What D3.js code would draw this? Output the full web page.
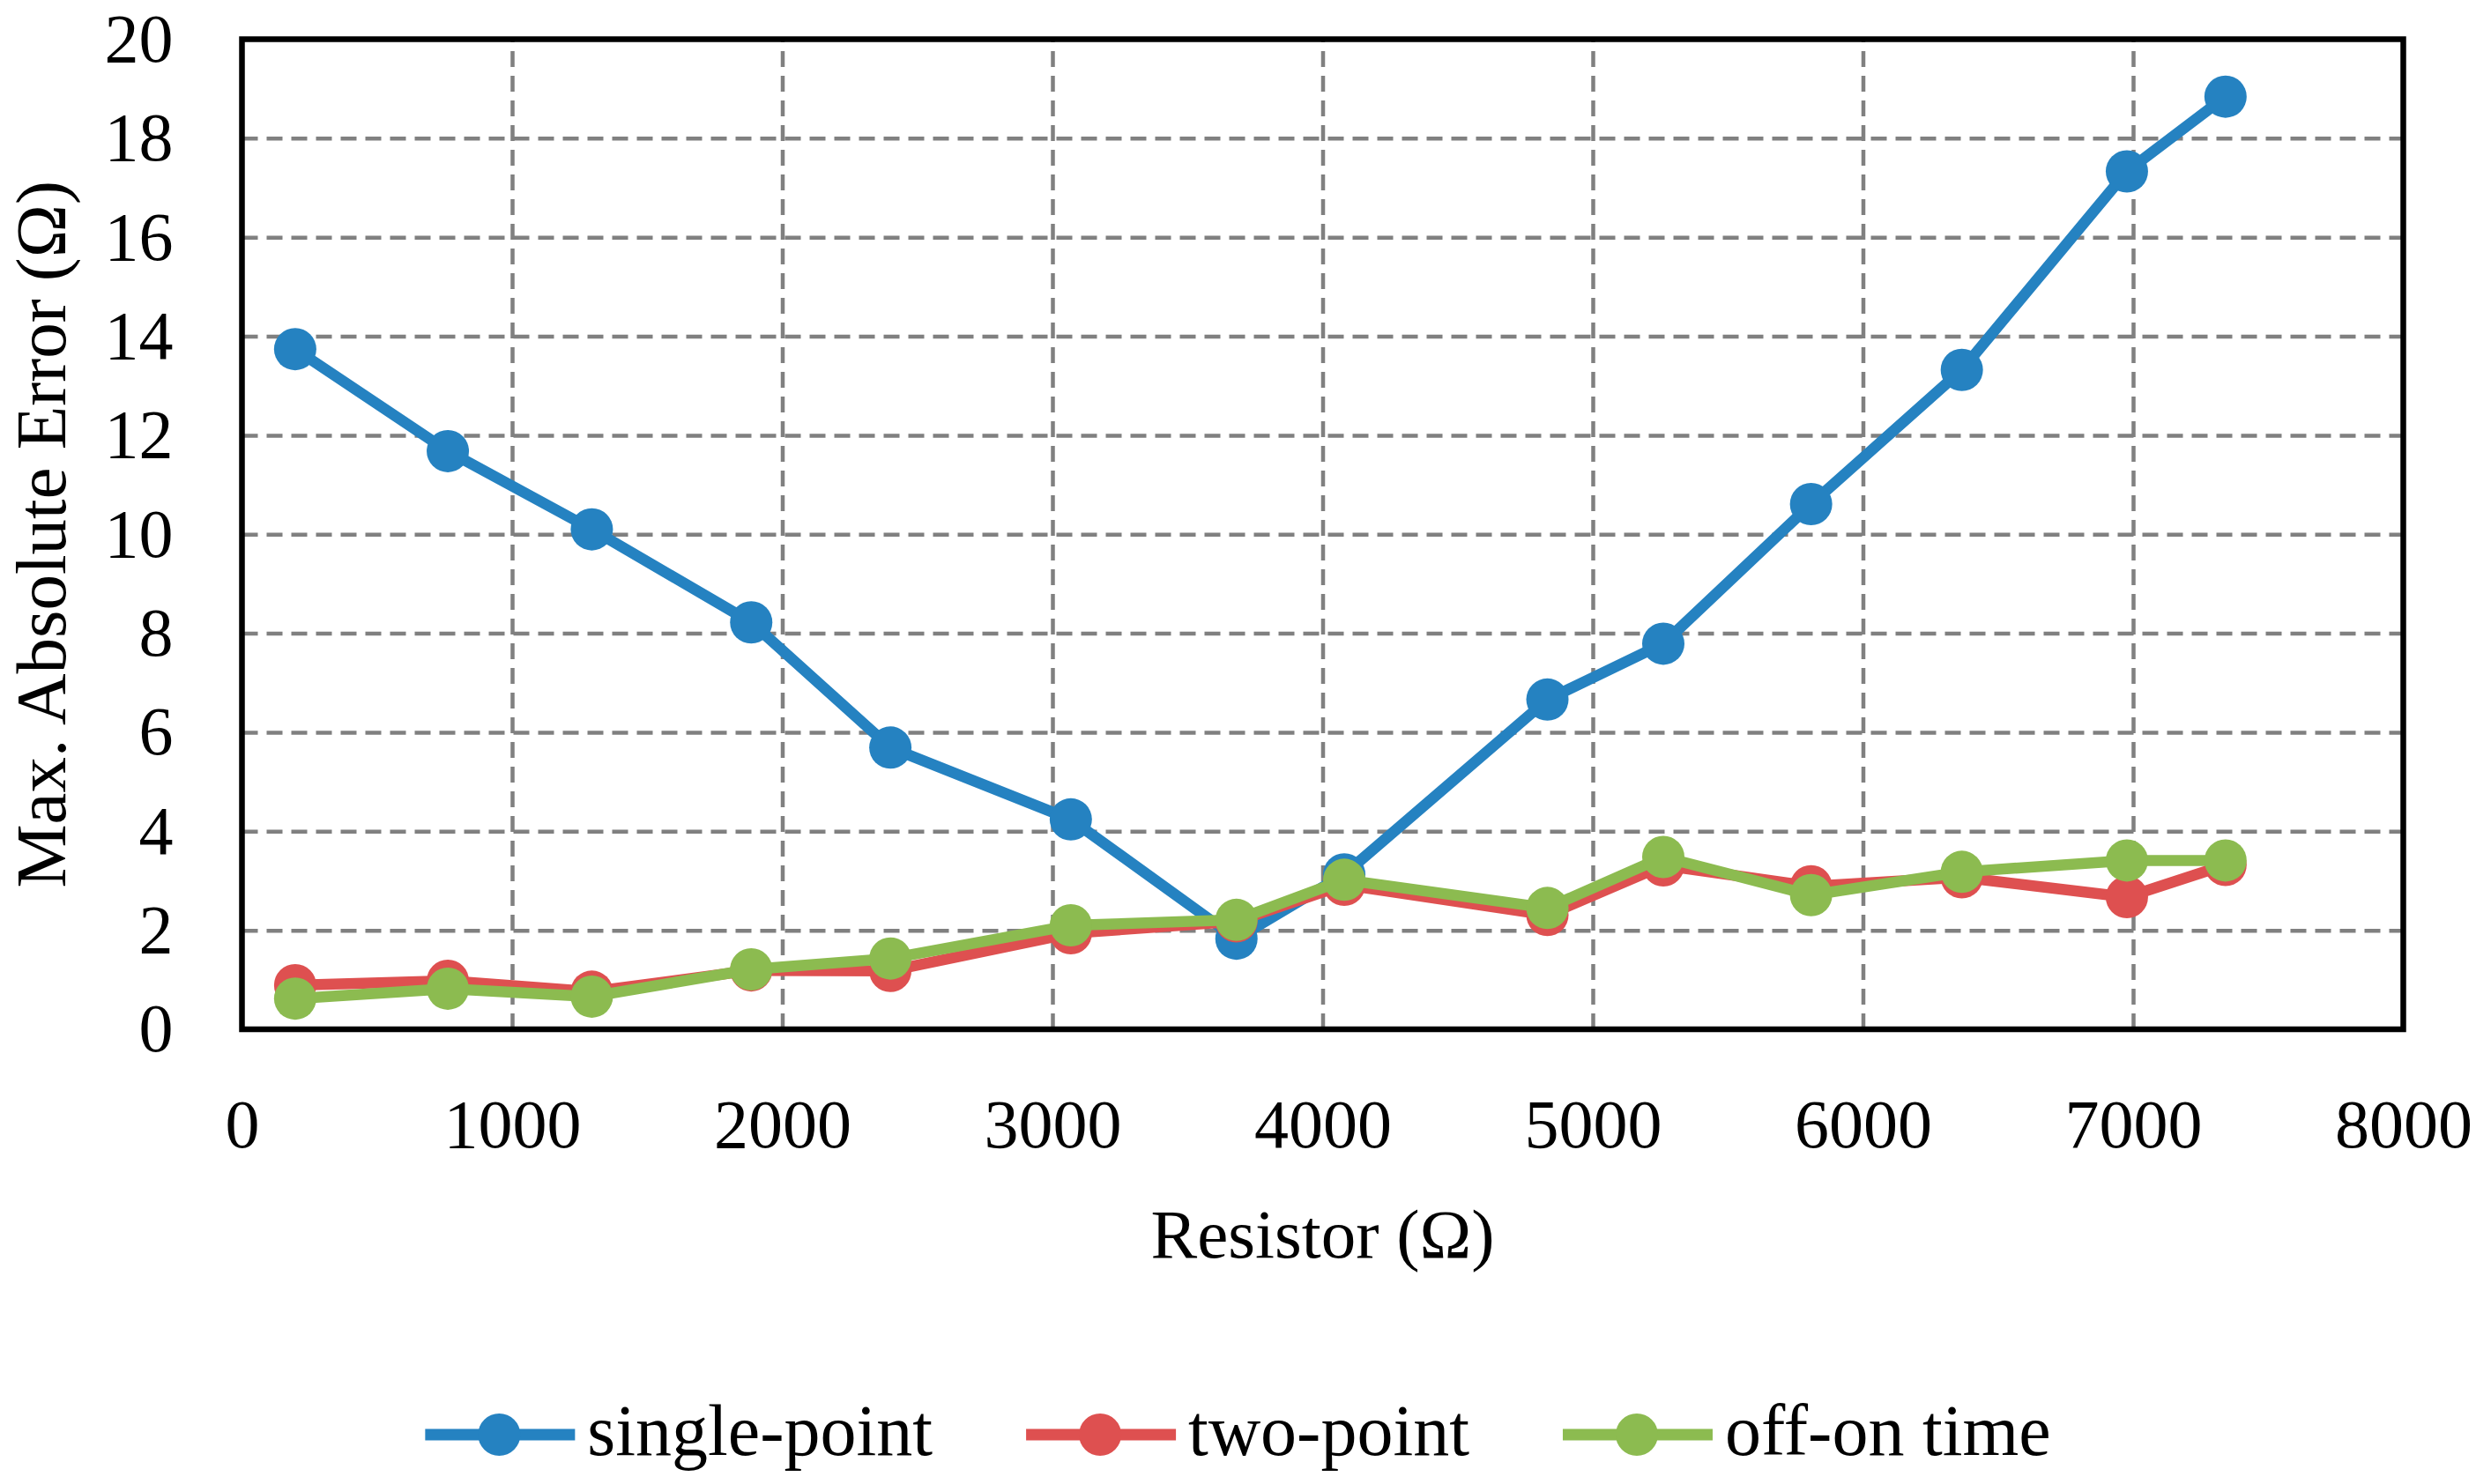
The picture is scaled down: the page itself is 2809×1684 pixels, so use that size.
<!DOCTYPE html>
<html>
<head>
<meta charset="utf-8">
<script src="https://cdn.jsdelivr.net/npm/d3@7"></script>
<style>
  body { margin: 0; background: #fff; }
  text { font-family: "Liberation Serif", "Times New Roman", serif; fill: #000; }
</style>
</head>
<body>
<svg id="chart"></svg>
<script>
// data
const resistance  = [197, 762, 1295, 1885, 2400, 3068, 3681, 4080, 4832, 5261, 5808, 6366, 6977, 7342];
const singlePoint = [13.74, 11.68, 10.10, 8.22, 5.69, 4.24, 1.83, 3.13, 6.66, 7.79, 10.61, 13.32, 17.33, 18.84];
const twoPoint    = [0.89, 0.98, 0.76, 1.19, 1.18, 1.94, 2.18, 2.92, 2.31, 3.31, 2.89, 3.07, 2.67, 3.32];
const offOnTime   = [0.62, 0.82, 0.66, 1.21, 1.43, 2.10, 2.21, 3.02, 2.45, 3.48, 2.71, 3.18, 3.41, 3.41];

const seriesNames  = ["single-point", "two-point", "off-on time"];
const seriesColors = ["#2582C1", "#DE5050", "#8CBB50"];
const xTicks = [0, 1000, 2000, 3000, 4000, 5000, 6000, 7000, 8000];
const yTicks = [0, 2, 4, 6, 8, 10, 12, 14, 16, 18, 20];

const xTitle = "Resistor (Ω)";
const yTitle = "Max. Absolute Error (Ω)";

let w = 2809, h = 1684;
let plotLeft = 274.5, plotRight = 2726.5, plotTop = 44.5, plotBottom = 1168;
let fontSize = 78;

let svg = d3.select("#chart")
            .attr("width", w)
            .attr("height", h);

let xScale = d3.scaleLinear()
               .domain([0, 8000])
               .range([plotLeft, plotRight]);

let yScale = d3.scaleLinear()
               .domain([0, 20])
               .range([plotBottom, plotTop]);

// dashed grid
let xGrid = d3.axisBottom(xScale)
              .tickValues(xTicks.slice(1, -1))
              .tickSize(-(plotBottom - plotTop))
              .tickFormat("");
let yGrid = d3.axisLeft(yScale)
              .tickValues(yTicks.slice(1, -1))
              .tickSize(-(plotRight - plotLeft))
              .tickFormat("");

svg.append("g")
   .attr("transform", `translate(0, ${plotBottom})`)
   .call(xGrid)
   .call(g => g.select(".domain").remove());
svg.append("g")
   .attr("transform", `translate(${plotLeft}, 0)`)
   .call(yGrid)
   .call(g => g.select(".domain").remove());

svg.selectAll(".tick line")
   .attr("stroke", "#808080")
   .attr("stroke-width", 4.5)
   .attr("stroke-dasharray", "18,10");

// plot border
svg.append("rect")
   .attr("x", plotLeft)
   .attr("y", plotTop)
   .attr("width", plotRight - plotLeft)
   .attr("height", plotBottom - plotTop)
   .attr("fill", "none")
   .attr("stroke", "#000")
   .attr("stroke-width", 6.5);

// tick labels
let xAxis = d3.axisBottom(xScale).tickValues(xTicks).tickSize(0).tickPadding(79).tickFormat(d3.format("d"));
let yAxis = d3.axisLeft(yScale).tickValues(yTicks).tickSize(0).tickPadding(78).tickFormat(d3.format("d"));

svg.append("g")
   .attr("transform", `translate(0, ${plotBottom})`)
   .call(xAxis)
   .call(g => g.select(".domain").remove())
   .selectAll("text")
   .style("font-size", fontSize + "px")
   .style("font-family", "Liberation Serif");

svg.append("g")
   .attr("transform", `translate(${plotLeft}, 0)`)
   .call(yAxis)
   .call(g => g.select(".domain").remove())
   .selectAll("text")
   .style("font-size", fontSize + "px")
   .style("font-family", "Liberation Serif");

// axis titles
svg.append("text")
   .attr("x", (plotLeft + plotRight) / 2)
   .attr("y", 1427)
   .attr("text-anchor", "middle")
   .style("font-size", "79px")
   .text(xTitle);

svg.append("text")
   .attr("transform", `translate(74, ${(plotTop + plotBottom) / 2}) rotate(-90)`)
   .attr("text-anchor", "middle")
   .style("font-size", "81px")
   .text(yTitle);

// series
const allSeries = [singlePoint, twoPoint, offOnTime];

let line = d3.line()
             .x((d, i) => xScale(resistance[i]))
             .y(d => yScale(d));

allSeries.forEach((values, k) => {
  let g = svg.append("g");
  g.append("path")
   .datum(values)
   .attr("d", line)
   .attr("fill", "none")
   .attr("stroke", seriesColors[k])
   .attr("stroke-width", 12.5)
   .attr("stroke-linejoin", "round");
  g.selectAll("circle")
   .data(values)
   .enter()
   .append("circle")
   .attr("cx", (d, i) => xScale(resistance[i]))
   .attr("cy", d => yScale(d))
   .attr("r", 24)
   .attr("fill", seriesColors[k]);
});

// legend, centred on the page
let legend = svg.append("g");
let swatch = 170, textGap = 14, itemGap = 106, legendY = 1628;

let items = seriesNames.map((name, k) => {
  let item = legend.append("g");
  item.append("line")
      .attr("x1", 0).attr("x2", swatch)
      .attr("y1", legendY).attr("y2", legendY)
      .attr("stroke", seriesColors[k])
      .attr("stroke-width", 13);
  item.append("circle")
      .attr("cx", swatch / 2 - 1)
      .attr("cy", legendY)
      .attr("r", 24)
      .attr("fill", seriesColors[k]);
  let t = item.append("text")
      .attr("x", swatch + textGap)
      .attr("y", 1651)
      .style("font-size", "82px")
      .text(name);
  return {item: item, width: swatch + textGap + t.node().getComputedTextLength()};
});

let total = d3.sum(items, d => d.width) + itemGap * (items.length - 1);
let pos = w / 2 - total / 2;
items.forEach(d => {
  d.item.attr("transform", `translate(${pos}, 0)`);
  pos += d.width + itemGap;
});
</script>
</body>
</html>
